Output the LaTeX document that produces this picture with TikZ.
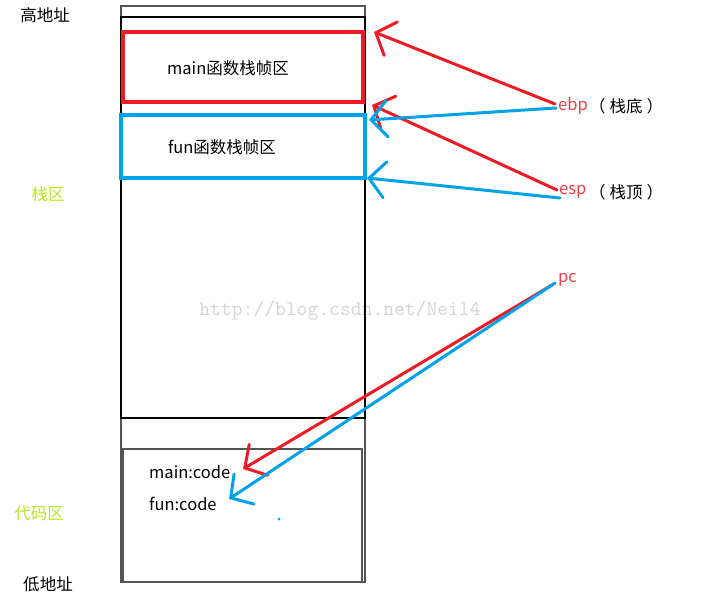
\documentclass[tikz,border=0pt]{standalone}
\usepackage{fontspec}
\setmainfont{Noto Sans CJK SC}
\usetikzlibrary{arrows.meta}
\definecolor{pred}{RGB}{237,28,36}
\definecolor{tred}{RGB}{240,62,72}
\definecolor{pblue}{RGB}{0,162,232}
\definecolor{plime}{RGB}{181,230,29}
\definecolor{frame}{RGB}{85,85,85}
\definecolor{wm}{RGB}{212,212,208}
\tikzset{
  lbl/.style={inner sep=0pt, font=\fontsize{16.5}{18}\selectfont},
  arr/.style={line width=3pt, line cap=round,
    -{Straight Barb[length=16pt,width=36pt,line cap=round]}},
  redarr/.style={arr, pred},
  bluearr/.style={arr, pblue},
}
\begin{document}
\begin{tikzpicture}[x=1pt,y=-1pt]
\useasboundingbox (0,0) rectangle (711,601);
% watermark
\node[text=wm, inner sep=0pt] (wmark) at (340,311) {\ttfamily\fontsize{21}{21}\selectfont http://blog.csdn.net/Neil4};
% frames
\draw[frame, line width=1.3pt] (121,6) rectangle (365,582);
\draw[black, line width=1.6pt] (121,17) rectangle (365,418);
\draw[frame, line width=1.5pt] (123,449) rectangle (362,582);
\draw[pred, line width=3.6pt] (123,32) rectangle (363,102);
\draw[pblue, line width=3.2pt] (121,115) rectangle (365,178);
% box texts
\node[lbl] (mainlbl) at (228,68) {main函数栈帧区};
\node[lbl] (funlbl) at (222,147) {fun函数栈帧区};
\node[lbl, anchor=west] (maincode) at (149,472) {main:code};
\node[lbl, anchor=west] (funcode) at (149,504) {fun:code};
% left labels
\node[lbl] (hi) at (45,15) {高地址};
\node[lbl, text=plime] (stk) at (48,194) {栈区};
\node[lbl, text=plime] (codearea) at (39,513) {代码区};
\node[lbl] (lo) at (48,584) {低地址};
% right labels
\node[lbl, text=tred, anchor=west] (ebp) at (558,106) {ebp};
\node[lbl, anchor=west] (ebpnote) at (589,106) {（\hspace{4pt}栈底\hspace{4pt}）};
\node[lbl, text=tred, anchor=west] (esp) at (559,192) {esp};
\node[lbl, anchor=west] (espnote) at (589,192) {（\hspace{4pt}栈顶\hspace{4pt}）};
\node[lbl, text=tred, anchor=west] (pc) at (558,280) {pc};
% connector ends
\coordinate (ebpR) at (555,104);
\coordinate (ebpB) at (556,108);
\coordinate (espR) at (557,190);
\coordinate (espB) at (560,198);
\coordinate (pcR) at (552,285);
\coordinate (pcB) at (555,283);
\coordinate (tMain) at (374,32);
\coordinate (tFunR) at (372,105);
\coordinate (tFunB) at (369,120);
\coordinate (tFunBot) at (367,178);
\coordinate (tMainCode) at (243,469);
\coordinate (tFunCode) at (229,499);
% arrows
\draw[redarr] (ebpR) -- (tMain);
\draw[redarr] (espR) -- (tFunR);
\draw[bluearr] (ebpB) -- (tFunB);
\draw[bluearr] (espB) -- (tFunBot);
\draw[redarr] (pcR) -- (tMainCode);
\draw[bluearr] (pcB) -- (tFunCode);
% stray dot
\fill[pblue] (279,519) circle (1.5);
\end{tikzpicture}
\end{document}
